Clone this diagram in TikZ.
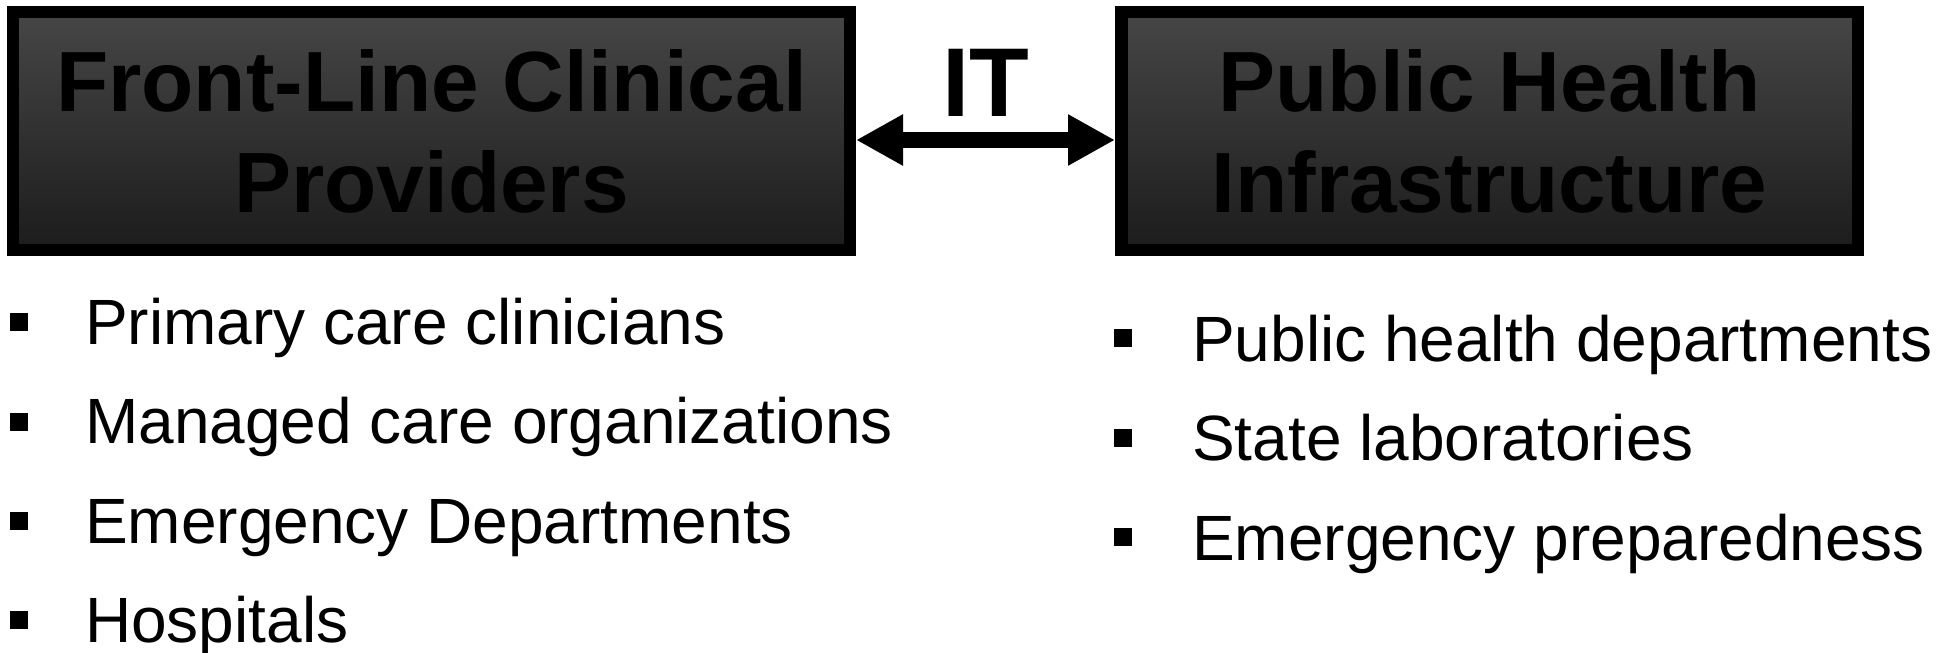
\documentclass[tikz,border=0pt]{standalone}
\usepackage{fontspec}
\setmainfont{Liberation Sans}
\usetikzlibrary{arrows.meta, positioning}
\definecolor{boxtop}{RGB}{70,70,70}
\definecolor{boxbottom}{RGB}{28,28,28}

\begin{document}
\begin{tikzpicture}[
    x=1bp, y=-1bp,
    headbox/.style={draw=black, line width=12.5bp, top color=boxtop, bottom color=boxbottom, minimum width=#1, minimum height=237.5bp, inner sep=0pt, align=center, text=black, font=\fontsize{85.5bp}{101bp}\selectfont\bfseries},
    listtext/.style={anchor=base west, inner sep=0pt, font=\fontsize{64bp}{70bp}\selectfont},
    bulletsq/.style={fill=black, minimum size=18bp, inner sep=0pt, outer sep=0pt},
    linkarrow/.style={line width=16bp, {Triangle[length=47bp,width=48bp]}-{Triangle[length=47bp,width=48bp]}}
]
    \useasboundingbox (0,0) rectangle (1950,653);

    % Boxes
    \node[headbox=836.5bp] (front) at (431.5,131) {Front-Line Clinical\\Providers};
    \node[headbox=736.5bp] (public) at (1489.5,131) {Public Health\\Infrastructure};

    % Link
    \node[anchor=base, inner sep=0pt, font=\fontsize{97.8bp}{100bp}\selectfont\bfseries] (it) at (986,117) {IT};
    \draw[linkarrow] ([yshift=-9bp]front.east) -- ([yshift=-9bp]public.west);

    % Front-line list
    \node[bulletsq] (b1) at (19,322) {};
    \node[bulletsq] (b2) at (19,421.5) {};
    \node[bulletsq] (b3) at (19,521) {};
    \node[bulletsq] (b4) at (19,620) {};
    \node[listtext] (p1) at (85,344) {Primary care clinicians};
    \node[listtext] (p2) at (85,443.5) {Managed care organizations};
    \node[listtext] (p3) at (85,543) {Emergency Departments};
    \node[listtext] (p4) at (85,642) {Hospitals};

    % Public health list
    \node[bulletsq] (c1) at (1123,338) {};
    \node[bulletsq] (c2) at (1123,437.5) {};
    \node[bulletsq] (c3) at (1123,537) {};
    \node[listtext] (q1) at (1192,361) {Public health departments};
    \node[listtext] (q2) at (1192,460.5) {State laboratories};
    \node[listtext] (q3) at (1192,560) {Emergency preparedness};
\end{tikzpicture}
\end{document}
